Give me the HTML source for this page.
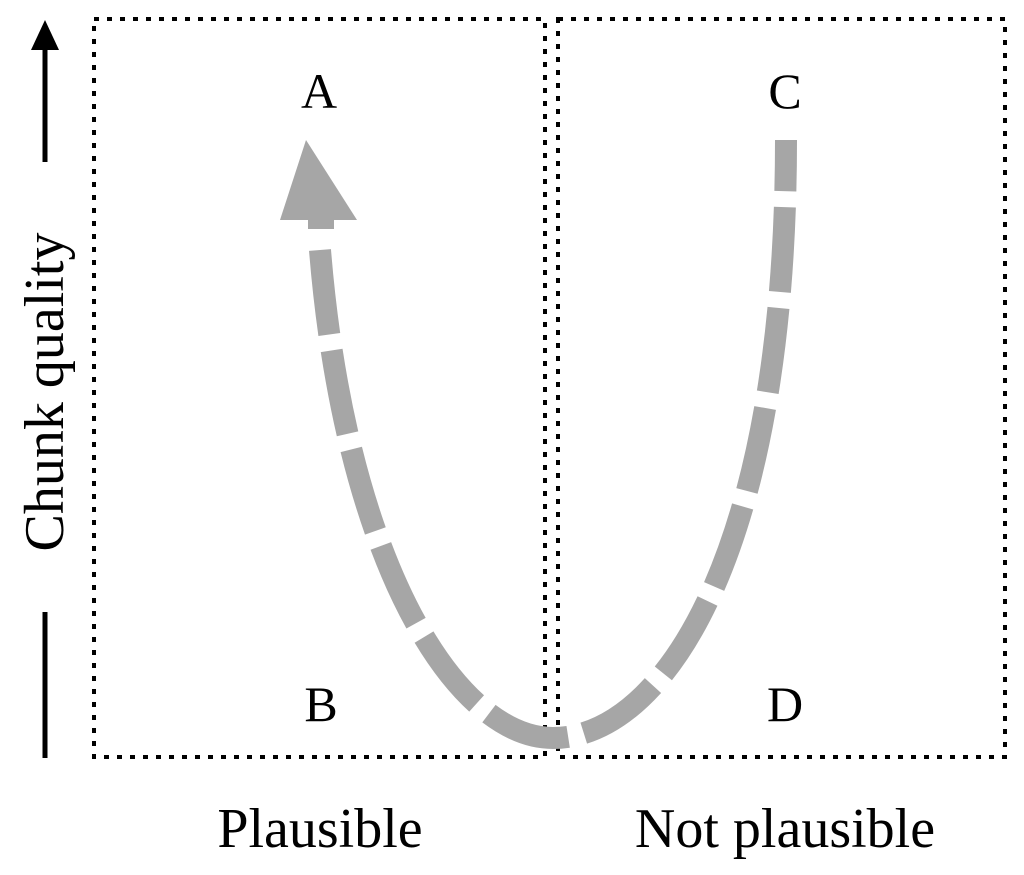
<!DOCTYPE html>
<html><head><style>html,body{margin:0;padding:0;background:#fff}</style></head>
<body>
<svg width="1024" height="870" viewBox="0 0 1024 870" xmlns="http://www.w3.org/2000/svg" font-family="Liberation Serif, serif">
<g fill="none" stroke="#000" stroke-width="4" stroke-dasharray="5 8">
<rect x="94" y="19" width="451" height="738"/>
<rect x="558" y="19" width="447" height="738"/>
</g>
<path d="M320,250 C345,560 455,738 553,738 C660,738 786,560 786,140" fill="none" stroke="#a6a6a6" stroke-width="22" stroke-dasharray="85 16"/>
<polygon points="306,140 280,220 357,220" fill="#a6a6a6"/>
<rect x="308" y="215" width="26" height="14" fill="#a6a6a6"/>
<line x1="45" y1="45" x2="45" y2="162" stroke="#000" stroke-width="5"/>
<polygon points="45,20 31,50 59,50" fill="#000"/>
<line x1="45" y1="612" x2="45" y2="758" stroke="#000" stroke-width="5"/>
<text transform="translate(63,392) rotate(-90)" font-size="56" text-anchor="middle">Chunk quality</text>
<g font-size="50" text-anchor="middle">
<text x="319" y="108">A</text>
<text x="785" y="108">C</text>
<text x="321" y="721">B</text>
<text x="785" y="721">D</text>
</g>
<g font-size="56" text-anchor="middle">
<text x="320" y="847">Plausible</text>
<text x="785" y="847">Not plausible</text>
</g>
</svg>
</body></html>
